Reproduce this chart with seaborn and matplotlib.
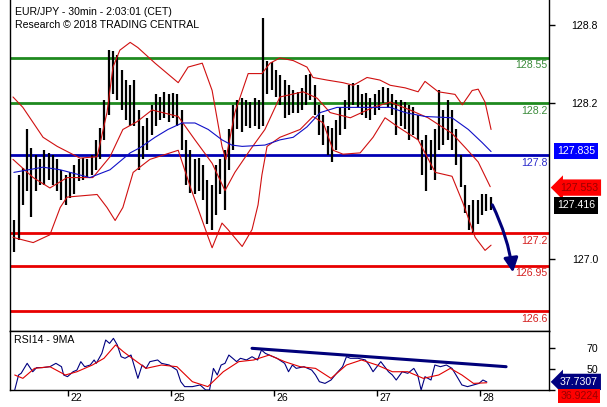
import numpy as np
import pandas as pd
import matplotlib
matplotlib.use("Agg")
import matplotlib.pyplot as plt
import matplotlib.transforms as mtrans
from matplotlib.patches import FancyArrowPatch
import seaborn as sns

sns.set_theme(style="white")
plt.rcParams["font.family"] = ["Liberation Sans", "DejaVu Sans"]

# ---------------- data ----------------
bar_high = [127.30, 127.65, 127.70, 128.00, 127.86, 127.80, 127.77, 127.84, 127.82, 127.80,
            127.77, 127.69, 127.65, 127.67, 127.73, 127.77, 127.78, 127.77, 127.80, 127.92,
            128.01, 128.23, 128.61, 128.60, 128.57, 128.46, 128.38, 128.34, 128.38, 128.15,
            128.03, 128.09, 128.19, 128.27, 128.25, 128.29, 128.27, 128.28, 128.27, 128.15,
            127.92, 127.84, 127.77, 127.78, 127.73, 127.61, 127.57, 127.73, 127.77, 127.84,
            128.00, 128.19, 128.23, 128.24, 128.23, 128.21, 128.24, 128.23, 128.86, 128.53,
            128.52, 128.46, 128.42, 128.38, 128.34, 128.30, 128.29, 128.32, 128.42, 128.43,
            128.34, 128.19, 128.11, 128.03, 128.01, 128.07, 128.17, 128.23, 128.34, 128.36,
            128.34, 128.27, 128.28, 128.24, 128.27, 128.30, 128.33, 128.32, 128.27, 128.23,
            128.23, 128.21, 128.19, 128.17, 128.11, 127.92, 127.96, 127.92, 128.00, 128.30,
            128.15, 128.23, 128.15, 128.00, 127.80, 127.57, 127.42, 127.46, 127.46, 127.50,
            127.50, 127.48]
bar_low = [127.06, 127.15, 127.42, 127.53, 127.33, 127.53, 127.57, 127.57, 127.61, 127.57,
           127.53, 127.46, 127.42, 127.47, 127.50, 127.60, 127.61, 127.63, 127.65, 127.69,
           127.77, 127.92, 128.11, 128.27, 128.23, 128.15, 128.07, 128.03, 128.03, 127.69,
           127.77, 127.84, 127.96, 128.03, 128.07, 128.09, 128.06, 128.09, 128.03, 127.84,
           127.57, 127.51, 127.50, 127.53, 127.46, 127.27, 127.23, 127.34, 127.50, 127.38,
           127.69, 127.84, 128.00, 127.98, 128.03, 128.01, 128.03, 128.00, 128.03, 128.27,
           128.30, 128.25, 128.19, 128.09, 128.11, 128.13, 128.13, 128.15, 128.19, 128.23,
           128.11, 127.96, 127.88, 127.80, 127.75, 127.84, 127.96, 128.00, 128.15, 128.19,
           128.17, 128.11, 128.09, 128.07, 128.11, 128.15, 128.20, 128.17, 128.11, 127.96,
           128.03, 128.00, 127.92, 127.96, 127.92, 127.65, 127.53, 127.69, 127.61, 127.84,
           127.88, 127.92, 127.84, 127.73, 127.56, 127.36, 127.23, 127.20, 127.27, 127.34,
           127.37, 127.38]
bar_idx = list(range(1, len(bar_high) + 1))

upper_x = [0.7, 3.0, 7.7, 11.0, 16.3, 20.3, 22.6, 24.0, 25.6, 28.0, 29.8, 33.8, 39.2, 41.5,
           44.8, 47.1, 49.4, 50.3, 52.4, 55.5, 58.7, 60.6, 62.9, 66.0, 69.2, 70.6, 73.9, 77.6,
           80.0, 83.2, 86.2, 88.6, 92.1, 95.1, 96.7, 99.8, 103.7, 105.4, 107.7, 109.1, 110.7, 112.1]
upper_y = [128.25, 128.17, 127.94, 127.87, 127.78, 127.79, 128.13, 128.48, 128.61, 128.67,
           128.63, 128.51, 128.36, 128.48, 128.51, 128.30, 127.87, 127.77, 128.13, 128.43,
           128.43, 128.51, 128.55, 128.53, 128.48, 128.40, 128.38, 128.36, 128.34, 128.40,
           128.38, 128.34, 128.32, 128.29, 128.37, 128.29, 128.27, 128.19, 128.30, 128.31,
           128.21, 128.00]

mid_x = [0.7, 5.4, 9.3, 13.3, 19.3, 23.3, 26.3, 29.6, 33.1, 39.2, 43.1, 47.1, 50.1, 52.4,
         55.9, 59.4, 62.9, 68.3, 71.6, 74.6, 79.3, 84.6, 88.6, 93.2, 97.4, 103.0, 106.1,
         109.1, 111.9]
mid_y = [127.77, 127.63, 127.55, 127.63, 127.63, 127.79, 128.00, 128.06, 128.15, 128.10,
         127.92, 127.74, 127.53, 127.67, 127.84, 128.00, 128.25, 128.29, 128.24, 128.13,
         128.09, 128.17, 128.21, 128.15, 128.09, 127.97, 127.86, 127.75, 127.56]

lower_x = [0.7, 5.4, 9.3, 11.7, 13.3, 20.3, 22.6, 24.5, 26.3, 28.7, 32.6, 39.2, 42.0, 46.2,
           47.1, 49.4, 50.8, 54.1, 56.4, 57.8, 58.7, 59.9, 62.9, 67.6, 70.6, 73.0, 75.3, 77.6,
           81.6, 84.6, 87.4, 90.4, 95.1, 99.1, 103.0, 105.6, 108.4, 110.7, 112.1]
lower_y = [127.17, 127.13, 127.19, 127.40, 127.48, 127.50, 127.40, 127.30, 127.40, 127.67,
           127.77, 127.84, 127.56, 127.17, 127.09, 127.28, 127.23, 127.10, 127.23, 127.42,
           127.65, 127.87, 127.94, 128.00, 128.10, 128.05, 127.84, 127.81, 127.82, 127.94,
           128.09, 128.02, 127.92, 127.67, 127.64, 127.43, 127.17, 127.07, 127.11]

ma_x = [0.9, 7.7, 11.7, 18.6, 23.3, 28.0, 30.3, 33.8, 36.8, 40.1, 43.1, 46.2, 49.4, 51.7,
        54.1, 59.4, 62.9, 66.0, 69.2, 72.3, 76.2, 81.6, 88.6, 92.1, 96.7, 103.0, 106.8,
        110.0, 112.1]
ma_y = [127.67, 127.71, 127.69, 127.63, 127.69, 127.82, 127.86, 127.94, 128.00, 128.05,
        128.05, 128.00, 127.92, 127.88, 127.87, 127.88, 127.92, 127.94, 128.02, 128.13,
        128.17, 128.17, 128.17, 128.13, 128.10, 128.09, 128.00, 127.90, 127.83]

rsi_x = [1.1, 2.0, 2.6, 4.0, 5.3, 6.2, 7.5, 9.3, 10.7, 12.0, 12.5, 13.4, 14.7, 15.6, 16.5,
         17.4, 18.7, 19.6, 20.1, 21.4, 22.3, 23.2, 24.1, 25.0, 25.9, 26.8, 28.2, 29.0, 29.8,
         30.8, 31.7, 32.6, 34.4, 35.3, 37.1, 38.9, 39.8, 40.7, 42.5, 44.3, 45.6, 46.5, 47.4,
         48.3, 49.2, 50.1, 51.0, 51.9, 52.8, 53.7, 55.1, 56.4, 57.7, 58.6, 59.5, 60.4, 62.2,
         64.0, 64.9, 65.8, 66.7, 68.5, 70.3, 71.2, 72.1, 73.4, 74.8, 76.1, 77.5, 78.4, 79.3,
         81.1, 82.8, 83.7, 84.6, 85.5, 86.4, 87.3, 88.2, 89.1, 90.0, 91.4, 92.7, 94.1, 95.0,
         95.8, 96.7, 98.1, 99.0, 100.3, 101.7, 103.0, 104.4, 105.3, 106.6, 108.0, 109.3,
         110.2, 111.1]
rsi_y = [30.0, 44.3, 45.9, 55.4, 47.4, 51.3, 51.3, 52.2, 55.4, 52.2, 44.3, 42.7, 47.4, 49.0,
         57.0, 52.2, 53.8, 58.6, 55.4, 64.9, 77.6, 74.4, 79.2, 72.9, 61.7, 60.2, 63.3, 52.2,
         41.1, 53.8, 50.6, 57.0, 58.6, 55.4, 53.8, 49.0, 37.9, 33.2, 33.2, 34.8, 30.0, 30.0,
         50.6, 44.3, 53.8, 55.4, 63.3, 60.2, 57.0, 60.2, 58.6, 61.7, 58.6, 68.1, 64.9, 63.3,
         60.2, 55.4, 47.4, 53.8, 50.6, 52.2, 49.0, 44.3, 37.9, 36.3, 39.5, 45.9, 52.2, 61.7,
         60.2, 60.2, 58.6, 53.8, 47.4, 52.2, 57.0, 52.2, 47.4, 44.3, 39.5, 47.4, 45.9, 50.6,
         44.3, 30.0, 42.7, 39.5, 53.8, 52.2, 53.8, 50.6, 41.1, 34.8, 33.2, 34.8, 36.3, 39.5,
         37.7]

rsi_ma_x = [1.1, 3.0, 5.7, 9.3, 12.9, 15.6, 19.2, 21.9, 24.6, 26.4, 29.0, 31.7, 35.3, 38.9,
            42.5, 46.1, 49.7, 53.3, 56.8, 60.4, 64.0, 67.6, 71.2, 74.8, 78.4, 81.9, 85.5,
            89.1, 92.7, 96.3, 99.9, 102.6, 105.3, 108.0, 111.1]
rsi_ma_y = [44.3, 41.1, 50.6, 52.2, 44.3, 47.4, 53.8, 60.2, 72.9, 66.5, 58.6, 50.6, 53.8,
            52.2, 37.9, 33.2, 47.4, 57.0, 58.6, 63.3, 57.0, 52.2, 50.6, 41.1, 53.8, 58.6,
            53.8, 47.4, 47.4, 41.1, 44.3, 50.6, 44.3, 36.3, 36.9]

trend_x = [56.4, 115.6]
trend_y = [69.7, 52.2]

levels = [128.55, 128.2, 127.8, 127.2, 126.95, 126.6]
level_labels = ["128.55", "128.2", "127.8", "127.2", "126.95", "126.6"]
level_colors = ["#1f8a1f", "#1f8a1f", "#0000b4", "#e80000", "#e80000", "#e80000"]
level_text_colors = ["#3c8c3c", "#3c8c3c", "#2a2acc", "#d42020", "#d42020", "#d42020"]

day_ticks = [13.5, 37.5, 61.5, 85.5, 109.5]
day_labels = ["22", "25", "26", "27", "28"]
price_ticks = [128.8, 128.2, 127.0]
price_tick_labels = ["128.8", "128.2", "127.0"]
rsi_ticks = [70, 50, 30]
rsi_tick_labels = ["70", "50", ""]

last_close = 127.416
ma_last = 127.835
band_last = 127.553
rsi_last = 37.7307
rsi_ma_last = 36.9224
arrow_from = (112.4, 127.42)
arrow_to = (117.2, 126.90)

title1 = "EUR/JPY - 30min - 2:03:01 (CET)"
title2 = "Research \u00a9 2018 TRADING CENTRAL"
rsi_title = "RSI14 - 9MA"

FS = 7.6

# ---------------- figure ----------------
W, H = 607, 407
fig = plt.figure(figsize=(W / 100, H / 100), dpi=100)
fig.patch.set_facecolor("white")

def fx(px):
    return px / W

def fy(py):
    return 1 - py / H

ax = fig.add_axes([fx(10), fy(331), fx(549) - fx(10), fy(0) - fy(331)])
axr = fig.add_axes([fx(10), fy(390), fx(549) - fx(10), fy(331) - fy(390)], sharex=ax)

XMAX = 125.6
ax.set_xlim(0, XMAX)
ax.set_ylim(128.996 - 331 / 130, 128.996)
axr.set_ylim(30.0, 86.2)

for a in (ax, axr):
    a.set_facecolor("white")
    for s in a.spines.values():
        s.set_color("black")
        s.set_linewidth(1.0)
    a.grid(False)
ax.spines["top"].set_visible(False)

# levels
for lv, c in zip(levels, level_colors):
    ax.axhline(lv, color=c, lw=2.0, zorder=2)
for lv, lab, c in zip(levels, level_labels, level_text_colors):
    ax.annotate(lab, xy=(1.0, lv), xycoords=ax.get_yaxis_transform(),
                xytext=(-1, -1.5), textcoords="offset points",
                ha="right", va="top", color=c, fontsize=FS, zorder=5)

# bars
ax.vlines(bar_idx, bar_low, bar_high, color="black", lw=1.6, zorder=3)

# bands / MA
band_color = "#d01010"
sns.lineplot(x=upper_x, y=upper_y, ax=ax, color=band_color, lw=0.8, sort=False, estimator=None, zorder=4)
sns.lineplot(x=mid_x, y=mid_y, ax=ax, color=band_color, lw=0.8, sort=False, estimator=None, zorder=4)
sns.lineplot(x=lower_x, y=lower_y, ax=ax, color=band_color, lw=0.8, sort=False, estimator=None, zorder=4)
sns.lineplot(x=ma_x, y=ma_y, ax=ax, color="#1010c8", lw=0.8, sort=False, estimator=None, zorder=4)

# arrow
arr = FancyArrowPatch(arrow_from, arrow_to, arrowstyle="-|>,head_length=6,head_width=3",
                      connectionstyle="arc3,rad=-0.08", color="#00007a", lw=2.2,
                      mutation_scale=1.4, zorder=6, shrinkA=0, shrinkB=0)
ax.add_patch(arr)

ax.text((15 - 10) / 539, 1 - 12 / 331, title1,
        transform=ax.transAxes, ha="left", va="center", fontsize=FS, color="black")
ax.text((15 - 10) / 539, 1 - 25 / 331, title2,
        transform=ax.transAxes, ha="left", va="center", fontsize=FS, color="black")

# RSI panel
sns.lineplot(x=rsi_x, y=rsi_y, ax=axr, color="#000080", lw=0.8, sort=False, estimator=None, zorder=3)
sns.lineplot(x=rsi_ma_x, y=rsi_ma_y, ax=axr, color="#e00000", lw=0.8, sort=False, estimator=None, zorder=4)
sns.lineplot(x=trend_x, y=trend_y, ax=axr, color="#00007a", lw=2.2, sort=False, estimator=None, zorder=5)
axr.text((14 - 10) / 539, (390 - 340) / 59, rsi_title, transform=axr.transAxes,
         ha="left", va="center", fontsize=FS, color="black")

# ticks
ax.yaxis.tick_right()
axr.yaxis.tick_right()
ax.set_yticks(price_ticks)
ax.set_yticklabels(price_tick_labels)
axr.set_yticks(rsi_ticks)
axr.set_yticklabels(rsi_tick_labels)
for a in (ax, axr):
    a.tick_params(axis="y", which="both", right=True, left=False, direction="out",
                  length=4.3, width=1, color="black", pad=31, labelsize=FS, labelcolor="black")
    for t in a.get_yticklabels():
        t.set_ha("right")
    a.set_xlabel("")
    a.set_ylabel("")

ax.tick_params(axis="x", bottom=False, labelbottom=False)
axr.set_xticks(day_ticks)
axr.set_xticklabels(day_labels)
axr.tick_params(axis="x", bottom=True, direction="out", length=4, width=1, color="black",
                pad=-2, labelsize=FS, labelcolor="black")
offset = mtrans.ScaledTranslation(2 / 72, 0, fig.dpi_scale_trans)
for t in axr.get_xticklabels():
    t.set_ha("left")
    t.set_transform(t.get_transform() + offset)
axr.set_xlim(0, XMAX)

# right-side value boxes
ytr = mtrans.blended_transform_factory(ax.transAxes, ax.transData)
ax.text(1.0148, ma_last, f"{ma_last:.3f}", transform=ytr, ha="left", va="center",
        fontsize=FS, color="white", zorder=10, clip_on=False,
        bbox=dict(boxstyle="square,pad=0.3", fc="#0000ff", ec="none"))
ax.text(1.02, band_last, f"{band_last:.3f}", transform=ytr, ha="left", va="center",
        fontsize=FS, color="#9a0000", zorder=10, clip_on=False,
        bbox=dict(boxstyle="larrow,pad=0.3", fc="#ff0000", ec="none"))
ax.text(1.0148, last_close, f"{last_close:.3f}", transform=ytr, ha="left", va="center",
        fontsize=FS, color="white", zorder=10, clip_on=False,
        bbox=dict(boxstyle="square,pad=0.3", fc="black", ec="none"))

rtr = mtrans.blended_transform_factory(axr.transAxes, axr.transData)
axr.text(1.02, rsi_last, f"{rsi_last:.4f}", transform=rtr, ha="left", va="center",
         fontsize=FS, color="white", zorder=10, clip_on=False,
         bbox=dict(boxstyle="larrow,pad=0.3", fc="#000080", ec="none"))
axr.annotate(f"{rsi_ma_last:.4f}", xy=(1.0, rsi_ma_last), xycoords=rtr,
             xytext=(8.0, -9.5), textcoords="offset points", ha="left", va="center",
             fontsize=FS, color="#9a0000", zorder=10, annotation_clip=False,
             bbox=dict(boxstyle="square,pad=0.2", fc="#ff0000", ec="none"))

for a in (ax, axr):
    leg = a.get_legend()
    if leg is not None:
        leg.remove()

fig.savefig("out.png", dpi=100, facecolor="white")
